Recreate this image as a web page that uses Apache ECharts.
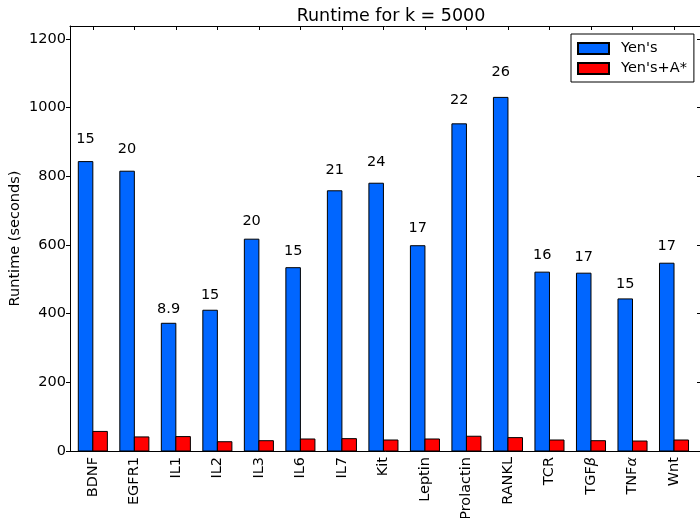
<!DOCTYPE html>
<html>
<head>
<meta charset="utf-8">
<script src="https://cdn.jsdelivr.net/npm/echarts@6/dist/echarts.min.js"></script>
<style>
  html, body { margin: 0; padding: 0; background: #fff; }
  #chart { width: 700px; height: 518px; }
</style>
</head>
<body>
<div id="chart"></div>
<script>
const categories = ['BDNF', 'EGFR1', 'IL1', 'IL2', 'IL3', 'IL6', 'IL7', 'Kit', 'Leptin', 'Prolactin', 'RANKL', 'TCR', 'TGFβ', 'TNFα', 'Wnt'];
const yensRuntime = [843, 815, 372, 410, 617, 534, 758, 780, 598, 953, 1030, 521, 518, 443, 547];
const yensAStarRuntime = [57, 41, 42, 27, 30, 35, 36, 32, 35, 43, 39, 32, 30, 29, 32];
const speedupLabels = ['15', '20', '8.9', '15', '20', '15', '21', '24', '17', '22', '26', '16', '17', '15', '17'];
const yTicks = [0, 200, 400, 600, 800, 1000, 1200];
const seriesNames = ["Yen's", "Yen's+A*"];

const BAR_W = 0.35;
const FONT = 'DejaVu Sans';
const tickPositions = categories.map((c, i) => i + BAR_W);

function labelFor(v) {
  const idx = Math.round(v - BAR_W);
  const name = categories[idx] || '';
  if (name === 'TGFβ') return 'TGF{it|β}';
  if (name === 'TNFα') return 'TNF{it|α}';
  return name;
}

function barRenderer(offset, color) {
  return function (params, api) {
    const x = api.value(0) + offset;
    const y = api.value(1);
    const p0 = api.coord([x, y]);
    const p1 = api.coord([x + BAR_W, 0]);
    return {
      type: 'rect',
      shape: { x: p0[0], y: p0[1], width: p1[0] - p0[0], height: p1[1] - p0[1] },
      style: { fill: color, stroke: '#000', lineWidth: 1 }
    };
  };
}

const chart = echarts.init(document.getElementById('chart'), null, { renderer: 'canvas' });

const option = {
  backgroundColor: '#fff',
  animation: false,
  textStyle: { fontFamily: FONT },
  title: {
    text: 'Runtime for k = 5000',
    left: 386,
    top: 2,
    textAlign: 'center',
    textStyle: { fontFamily: FONT, fontSize: 17.5, fontWeight: 'normal', color: '#000' }
  },
  legend: {
    data: seriesNames,
    orient: 'vertical',
    left: 571,
    top: 34,
    padding: [7, 7, 6, 6],
    itemWidth: 31,
    itemHeight: 11,
    itemGap: 5,
    icon: 'rect',
    borderColor: '#000',
    borderWidth: 1,
    borderRadius: 0,
    backgroundColor: '#fff',
    textStyle: { fontFamily: FONT, fontSize: 14.5, color: '#000', padding: [0, 0, 0, 7] }
  },
  grid: { left: 70, top: 26, width: 631, height: 425, containLabel: false, outerBoundsMode: 'none' },
  xAxis: [
    {
      type: 'value',
      min: -0.2,
      max: 15,
      position: 'bottom',
      splitLine: { show: false },
      axisLine: { show: true, onZero: false, lineStyle: { color: '#000', width: 1 } },
      axisTick: { show: true, inside: true, length: 4, customValues: tickPositions, lineStyle: { color: '#000' } },
      axisLabel: {
        show: true,
        customValues: tickPositions,
        rotate: 90,
        margin: 6,
        color: '#000',
        fontFamily: FONT,
        fontSize: 14.5,
        formatter: labelFor,
        rich: { it: { fontFamily: FONT, fontStyle: 'italic', fontSize: 14.5, color: '#000' } }
      }
    },
    {
      type: 'value',
      min: -0.2,
      max: 15,
      position: 'top',
      splitLine: { show: false },
      axisLine: { show: true, onZero: false, lineStyle: { color: '#000', width: 1 } },
      axisTick: { show: true, inside: true, length: 4, customValues: tickPositions, lineStyle: { color: '#000' } },
      axisLabel: { show: false }
    }
  ],
  yAxis: [
    {
      type: 'value',
      min: 0,
      max: 1238,
      position: 'left',
      name: 'Runtime (seconds)',
      nameLocation: 'middle',
      nameGap: 47,
      nameMoveOverlap: false,
      nameRotate: 90,
      nameTextStyle: { fontFamily: FONT, fontSize: 14.5, color: '#000' },
      splitLine: { show: false },
      axisLine: { show: true, onZero: false, lineStyle: { color: '#000', width: 1 } },
      axisTick: { show: true, inside: false, length: 4, customValues: yTicks, lineStyle: { color: '#000' } },
      axisLabel: { show: true, customValues: yTicks, margin: 4, color: '#000', fontFamily: FONT, fontSize: 14.5, formatter: v => String(v) }
    },
    {
      type: 'value',
      min: 0,
      max: 1238,
      position: 'right',
      splitLine: { show: false },
      axisLine: { show: true, onZero: false, lineStyle: { color: '#000', width: 1 } },
      axisTick: { show: true, inside: true, length: 4, customValues: yTicks, lineStyle: { color: '#000' } },
      axisLabel: { show: false }
    }
  ],
  series: [
    {
      name: seriesNames[0],
      type: 'custom',
      xAxisIndex: 0,
      yAxisIndex: 0,
      itemStyle: { color: '#0066ff', borderColor: '#000', borderWidth: 1 },
      renderItem: barRenderer(0, '#0066ff'),
      data: yensRuntime.map((v, i) => [i, v])
    },
    {
      name: seriesNames[1],
      type: 'custom',
      xAxisIndex: 0,
      yAxisIndex: 0,
      itemStyle: { color: '#ff0000', borderColor: '#000', borderWidth: 1 },
      renderItem: barRenderer(BAR_W, '#ff0000'),
      data: yensAStarRuntime.map((v, i) => [i, v])
    },
    {
      name: 'speedup',
      type: 'custom',
      xAxisIndex: 0,
      yAxisIndex: 0,
      silent: true,
      renderItem: function (params, api) {
        const i = api.value(0);
        const h = api.value(1);
        const p = api.coord([i + BAR_W / 2, h * 1.05]);
        return {
          type: 'text',
          x: p[0],
          y: p[1],
          style: {
            text: speedupLabels[params.dataIndex],
            fill: '#000',
            font: '14.5px "DejaVu Sans"',
            align: 'center',
            verticalAlign: 'bottom'
          }
        };
      },
      data: yensRuntime.map((v, i) => [i, v])
    }
  ]
};

chart.setOption(option);
</script>
</body>
</html>
